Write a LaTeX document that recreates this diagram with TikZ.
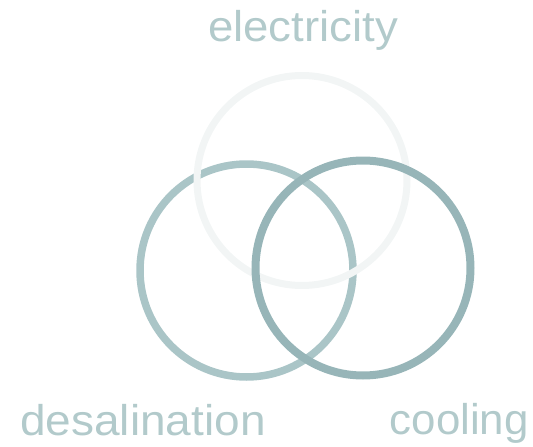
\documentclass[tikz,border=0pt]{standalone}
\usepackage{fontspec}
\newfontfamily\lblfont{Liberation Sans}
\definecolor{txtc}{HTML}{B2CACB}
\definecolor{leftc}{HTML}{AAC5C7}
\definecolor{rightc}{HTML}{97B5B8}
\definecolor{palec}{HTML}{F2F5F5}
\tikzset{
  ring/.style={draw, line width=7.5pt, fill=none},
  lbl/.style={inner sep=0pt, text=txtc, font=\lblfont\fontsize{43}{43}\selectfont}
}
\begin{document}
\begin{tikzpicture}[x=1pt,y=-1pt]
\useasboundingbox (0,0) rectangle (533,447);
\draw[ring, leftc] (246.5,270.5) circle[radius=106.5] coordinate (cl);
\draw[ring, palec, line width=7pt] (302,180.5) circle[radius=105] coordinate (ct);
\draw[ring, rightc, line width=8pt] (363,268) circle[radius=107.5] coordinate (cr);
\node[lbl, anchor=base] (el) at (303,41) {\scalebox{1.06}[1]{electricity}};
\node[lbl, anchor=base west] (de) at (20,435) {\scalebox{1.07}[1]{desalination}};
\node[lbl, anchor=base east] (co) at (529,434) {\scalebox{1.02}[1]{cooling}};
\end{tikzpicture}
\end{document}
